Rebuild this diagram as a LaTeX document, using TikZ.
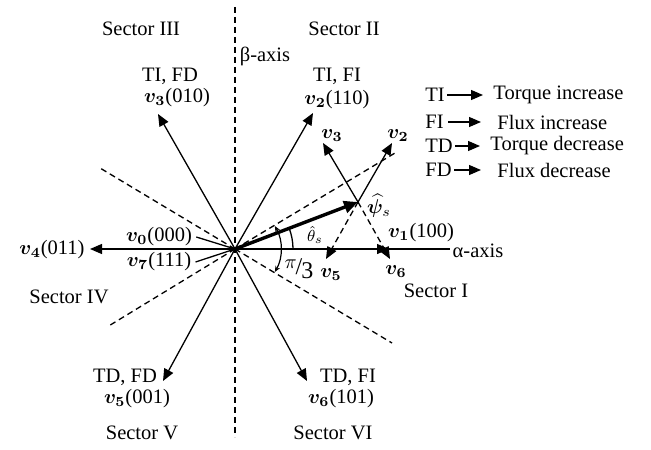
\documentclass[tikz,border=0pt]{standalone}
\usepackage{fontspec}
\setmainfont{Liberation Serif}
\usepackage{amsmath}
\usepackage{bm}
\usetikzlibrary{arrows.meta,calc}
\begin{document}
\begin{tikzpicture}[x=0.5pt,y=-0.5pt,
  font=\fontsize{10.25pt}{12pt}\selectfont,
  vec/.style={line width=0.65pt,-{Triangle[length=6pt,width=5pt]}},
  dvec/.style={line width=0.65pt,dash pattern=on 3pt off 2pt,-{Triangle[length=6pt,width=5pt]}},
  dline/.style={line width=0.65pt,dash pattern=on 3pt off 2pt},
  thin/.style={line width=0.65pt},
  lbl/.style={inner sep=0pt},
  legarrow/.style={line width=0.6pt,-{Triangle[length=6pt,width=5pt]}}]
\useasboundingbox (0,0) rectangle (651,449);
% key points
\coordinate (O) at (235,249);
\coordinate (betaTop) at (235,7);
\coordinate (betaBot) at (235,437);
\coordinate (alphaEnd) at (450,249);
\coordinate (dUR) at (395,153);
\coordinate (dUL) at (100,168);
\coordinate (dLL) at (107,327);
\coordinate (dLR) at (392,343);
\coordinate (t1) at (389,249);
\coordinate (t2) at (313,113);
\coordinate (t3) at (158,114);
\coordinate (t4) at (90,249);
\coordinate (t5) at (163,381);
\coordinate (t6) at (307,381);
\coordinate (P) at (358,202);
\coordinate (s2) at (392,143);
\coordinate (s3) at (323,143);
\coordinate (s5) at (326,259);
\coordinate (s6) at (390,259);
\coordinate (thA) at (293,249);
\coordinate (piA) at ($(O)+(39.8,-23)$);
% dashed axes / sector borders
\draw[dline] (betaTop) -- (betaBot);
\draw[dline] (O) -- (dUR);
\draw[dline] (O) -- (dUL);
\draw[dline] (O) -- (dLL);
\draw[dline] (O) -- (dLR);
% alpha axis
\draw[thin] (O) -- (alphaEnd);
% voltage vectors
\draw[vec] (O) -- (t1);
\draw[vec] (O) -- (t2);
\draw[vec] (O) -- (t3);
\draw[vec] (O) -- (t4);
\draw[vec] (O) -- (t5);
\draw[vec] (O) -- (t6);
% flux vector
\draw[line width=1.7pt,-{Triangle[length=7pt,width=6pt]}] (O) -- (P);
% vectors from flux tip
\draw[vec] (P) -- (s2);
\draw[vec] (P) -- (s3);
\draw[dvec] (P) -- (s5);
\draw[dvec] (P) -- (s6);
% angle arcs
\draw[thin] (thA) arc[start angle=0,end angle=-21,radius=58];
\draw[line width=0.6pt,{Stealth[length=3pt,width=2.5pt]}-{Stealth[length=3pt,width=2.5pt]}] (piA) arc[start angle=-30,end angle=30,radius=46];
% labels
\node[lbl] (secIII) at (141,29) {Sector III};
\node[lbl] (secII) at (344,29) {Sector II};
\node[lbl] (secI) at (436,291) {Sector I};
\node[lbl] (secIV) at (69,297) {Sector IV};
\node[lbl] (secV) at (142,433) {Sector V};
\node[lbl] (secVI) at (333,433) {Sector VI};
\node[lbl] (beta) at (265,56) {β-axis};
\node[lbl] (alpha) at (478,251) {α-axis};
\node[lbl] (tifd) at (170,76) {TI, FD};
\node[lbl] (v3l) at (177,98) {$\bm{v}_{\bm{3}}$(010)};
\node[lbl] (tifi) at (337,76) {TI, FI};
\node[lbl] (v2l) at (337,100) {$\bm{v}_{\bm{2}}$(110)};
\node[lbl] (sv3) at (332,136) {$\bm{v}_{\bm{3}}$};
\node[lbl] (sv2) at (398,136) {$\bm{v}_{\bm{2}}$};
\node[lbl] (psi) at (379,206) {$\widehat{\bm{\psi}}_{s}$};
\node[lbl] (theta) at (315,235) {\footnotesize$\hat{\theta}_{s}$};
\node[lbl] (v1l) at (421,233) {$\bm{v}_{\bm{1}}$(100)};
\node[lbl] (sv5) at (331,275) {$\bm{v}_{\bm{5}}$};
\node[lbl] (sv6) at (396,272) {$\bm{v}_{\bm{6}}$};
\node[lbl] (pi3) at (299,269) {\raisebox{3pt}{$\pi$}\kern-0.5pt{\large/}\kern-0.5pt\raisebox{-2pt}{\large 3}};
\node[lbl] (v0l) at (159,237) {$\bm{v}_{\bm{0}}$(000)};
\node[lbl] (v4l) at (52,250) {$\bm{v}_{\bm{4}}$(011)};
\node[lbl] (v7l) at (159,262) {$\bm{v}_{\bm{7}}$(111)};
\node[lbl] (tdfd) at (125,377) {TD, FD};
\node[lbl] (v5l) at (137,399) {$\bm{v}_{\bm{5}}$(001)};
\node[lbl] (tdfi) at (348,377) {TD, FI};
\node[lbl] (v6l) at (341,399) {$\bm{v}_{\bm{6}}$(101)};
\draw[thin] ([xshift=2pt]v0l.east) -- (O);
\draw[thin] ([xshift=2pt]v7l.east) -- (O);
% legend
\node[lbl,anchor=west] (aTI) at (425,95) {TI};
\node[lbl,anchor=west] (aFI) at (425,122) {FI};
\node[lbl,anchor=west] (aTD) at (425,146) {TD};
\node[lbl,anchor=west] (aFD) at (425,170) {FD};
\node[lbl,anchor=west] (bTI) at (493,95) {Torque increase};
\node[lbl,anchor=west] (bFI) at (497,122) {Flux increase};
\node[lbl,anchor=west] (bTD) at (490,146) {Torque decrease};
\node[lbl,anchor=west] (bFD) at (497,170) {Flux decrease};
\draw[legarrow,shorten <=1pt,shorten >=5pt] (aTI.east) -- (bTI.west);
\draw[legarrow,shorten <=2pt,shorten >=8pt] (aFI.east) -- (bFI.west);
\draw[legarrow,shorten <=1pt,shorten >=5pt] (aTD.east) -- (bTD.west);
\draw[legarrow,shorten <=1pt,shorten >=8pt] (aFD.east) -- (bFD.west);
\end{tikzpicture}
\end{document}
